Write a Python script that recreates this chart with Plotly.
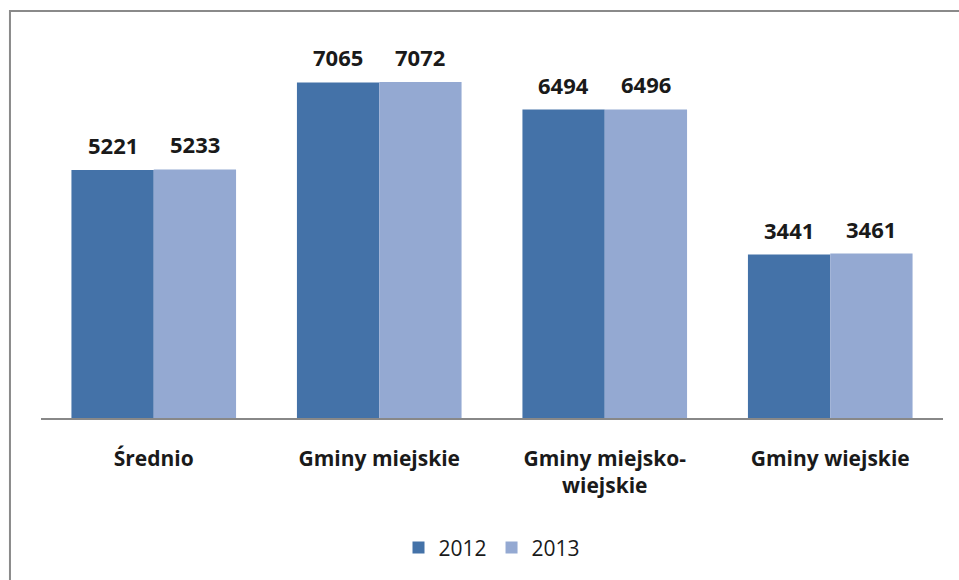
import plotly.graph_objects as go

categories = ["Średnio", "Gminy miejskie", "Gminy miejsko-<br>wiejskie", "Gminy wiejskie"]
years = ["2012", "2013"]
values_2012 = [5221, 7065, 6494, 3441]
values_2013 = [5233, 7072, 6496, 3461]

colors = {"2012": "#4472A8", "2013": "#94A9D2"}
font_family = "Open Sans, DejaVu Sans, sans-serif"

fig = go.Figure()
for year, vals in zip(years, [values_2012, values_2013]):
    fig.add_trace(go.Bar(
        x=categories, y=vals, name=year,
        marker=dict(color=colors[year], line=dict(width=0)),
        hoverinfo="x+y+name",
    ))

# value labels above each bar (bars are ~82 px wide, shifted left/right of centre)
for shift, vals in zip([-41, 41], [values_2012, values_2013]):
    for cat, v in zip(categories, vals):
        fig.add_annotation(
            x=cat, y=v, xref="x", yref="y",
            text=f"<b>{v}</b>", showarrow=False,
            xshift=shift, yshift=25, yanchor="middle",
            font=dict(size=22, color="#1a1a1a", family=font_family),
        )

fig.update_layout(
    width=959, height=580,
    margin=dict(l=41, r=16, t=38, b=162),
    paper_bgcolor="white", plot_bgcolor="white",
    barmode="group", bargap=0.27, bargroupgap=0,
    font=dict(family=font_family, color="#1a1a1a"),
    showlegend=True,
    legend=dict(
        orientation="h", x=0.5, xanchor="center",
        y=-0.342, yanchor="middle",
        font=dict(size=21, color="#1a1a1a"),
        itemwidth=30, itemsizing="constant",
    ),
    shapes=[dict(
        type="rect", xref="paper", yref="paper",
        x0=-0.0344, x1=1.06, y0=-0.6, y1=1.071,
        line=dict(color="#8a8a8a", width=2), fillcolor="rgba(0,0,0,0)",
        layer="below",
    )],
)

fig.update_xaxes(
    showline=True, linecolor="#888888", linewidth=1.5,
    showgrid=False, ticks="", ticklabelstandoff=21,
    tickfont=dict(size=21, color="#1a1a1a", family=font_family),
    tickmode="array", tickvals=categories,
    ticktext=[f"<b>{c}</b>" for c in categories],
)
fig.update_yaxes(
    range=[0, 8000], visible=False, showgrid=False, zeroline=False,
)

fig.write_html(
    "out.html",
    config={"displayModeBar": False},
    post_script="document.body.style.margin='0';",
)
